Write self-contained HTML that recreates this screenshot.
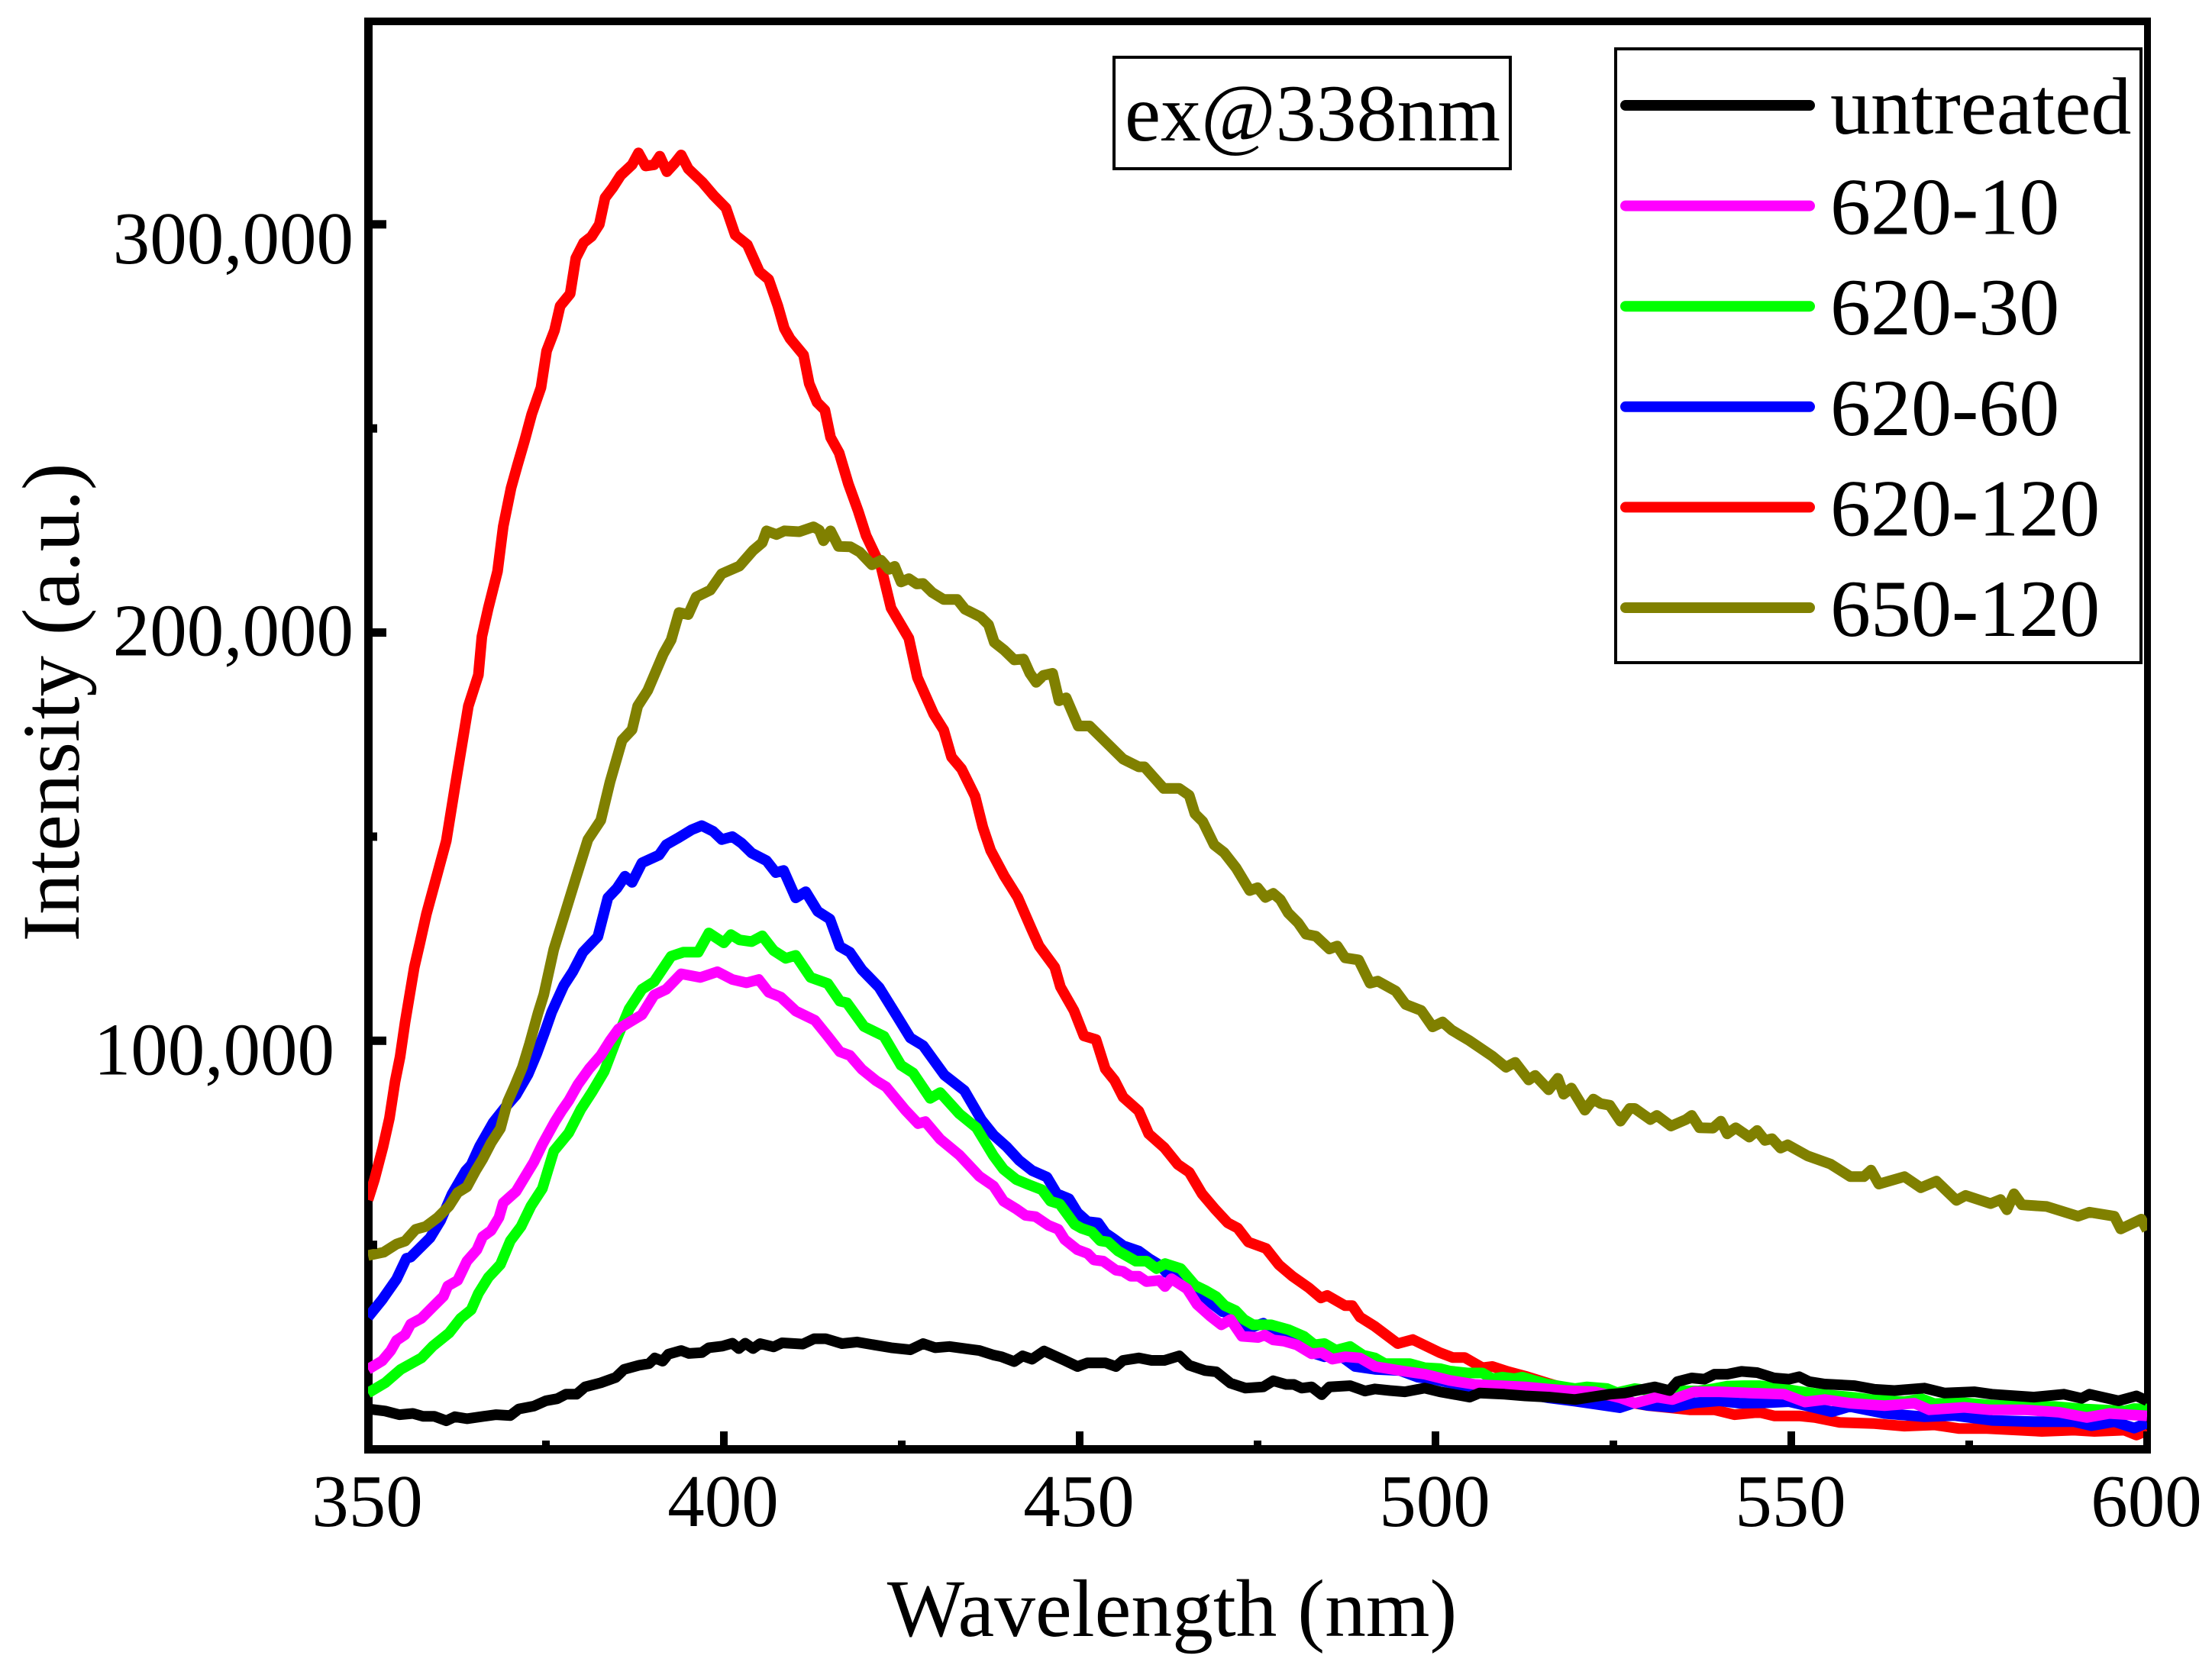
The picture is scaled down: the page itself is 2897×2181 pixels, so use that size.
<!DOCTYPE html>
<html lang="en">
<head>
<meta charset="utf-8">
<title>Intensity vs Wavelength</title>
<style>
html,body{margin:0;padding:0;background:#fff;}
svg{display:block;}
text{font-family:"Liberation Serif","Times New Roman",serif;fill:#000;}
</style>
</head>
<body>
<svg id="chart" xmlns="http://www.w3.org/2000/svg" width="2897" height="2181" viewBox="0 0 2897 2181">
  <rect x="0" y="0" width="2897" height="2181" fill="#fff"/>
  <defs><clipPath id="plot-clip"><rect x="482" y="27" width="2331" height="1871"/></clipPath></defs>
  <g id="series-layer" clip-path="url(#plot-clip)"></g>
  <g id="axes-layer"></g>
  <g id="labels-layer"></g>
  <text x="1535" y="2143" font-size="107.5" text-anchor="middle">Wavelength (nm)</text>
  <text transform="translate(103,920) rotate(-90)" font-size="107" text-anchor="middle">Intensity (a.u.)</text>
  <g>
    <rect x="1459" y="75" width="519" height="146" fill="#fff" stroke="#000" stroke-width="4"/>
    <text x="1473" y="184" font-size="106">ex@338nm</text>
  </g>
  <g id="legend-layer">
    <rect x="2116" y="64" width="688" height="804" fill="#fff" stroke="#000" stroke-width="4"/>
  </g>
</svg>
<script>
// Axis ranges and ticks
const xDomain = [350, 600];
const yDomain = [0, 350];
const xMajorTicks = [350, 400, 450, 500, 550, 600];
const xMinorTicks = [375, 425, 475, 525, 575];
const yMajorTicks = [100, 200, 300];
const yMinorTicks = [50, 150, 250];
const yTickLabels = ["100,000", "200,000", "300,000"];
const xTickLabels = ["350", "400", "450", "500", "550", "600"];

// Series values: wavelength (nm) and intensity (thousands of a.u.)
const redWl = [350,350.9,352.1,353,353.8,354.5,355.2,356.5,357.3,358.2,359.6,361,362.2,363.3,364.1,365.5,366,366.9,368.2,369,370.1,371,372,373,374.3,375.1,376.2,377,378.4,379.2,380.3,381.4,382.5,383.3,384.4,385.5,387.1,388,389,390.2,391,392,393.1,394,395,397,398.6,400.3,401.6,403.3,405,406.3,407.6,408.5,409.3,411.2,412,413.1,414.2,415,416.2,417.5,418.9,420,422.1,423.5,426,427.2,429.5,430.9,432,433.4,435.3,436.4,437.5,439.4,441.3,443.2,444.3,446.5,447.3,449.2,450.6,452.3,453.6,454.9,456.1,458.3,459.7,461.9,463.8,465.4,467.2,469,470.8,472.2,473.7,476.2,478,479.9,482.2,483.9,484.8,487.3,488.3,489.4,491.5,494.7,496.8,500.6,502.4,504.1,506.6,508,510.1,512.9,516,520,525,530,535.7,539.2,542,545.5,547.6,551.1,553.3,556.8,561.7,565.9,570.1,573.6,577.5,582,585.2,589.7,592.6,596.8,598.5,600];
const redVal = [61,66,74,81,90,96,104.5,118,124,131,140,149,162,173.6,182,189.6,199,206,215,226,235.4,241,247,253.5,260,269,274,280,283,291.7,295.5,297,300,306.5,309,312,314.6,317.5,314.3,314.6,316.7,312.9,315,317,313.6,310.3,307,304,297.4,295,288.4,286.5,280,274.5,272,268,261,256.4,254.5,247.8,244,236.4,229.7,223.7,216,206,198.6,189,180,176.1,169.5,166.6,159.9,152.3,146.6,140.4,135.1,127.5,123.2,118,113.2,107.4,101.2,100.3,93.1,90.3,86.2,82.8,77.2,73.8,69.7,67.8,62.5,58.8,55.4,54.1,50.7,49.1,45.1,42.3,39.5,37,37.6,35.1,35.1,32.3,30,25.8,26.8,23.6,22.4,22.4,19.9,20.2,19,17.7,16,14,12,10.6,9.6,9.6,8.4,9,8.1,8.1,7.7,6.5,6.2,5.6,5.9,5,5,4.6,4.3,4.6,4.3,4.6,3.4,4.5];

const blueWl = [350,352,354,355.4,356,358.7,360.2,361.8,363.7,364.5,365.7,367.6,369.2,370.8,372.5,373.7,374.9,375.8,377.5,378.8,380.2,382.3,383.7,385,386.1,387.1,388.5,390.9,391.9,393.5,395.5,396.9,398.5,399.7,401.2,402.5,403.9,406,407.3,408.4,410.1,411.5,413.2,414.9,416.3,417.7,419.4,421.8,424.2,426.2,428,431,433.8,436.2,437.9,439.7,441.5,443.3,445.4,446.8,448.5,449.7,451.1,452.6,453.6,454.7,456.1,458.3,459.7,461.2,462.2,464.4,466.5,468.3,470.1,471.9,473.7,475.8,477.6,479.7,482.6,484.4,486.5,488.7,491.5,495,497.5,499.9,504.1,508,512,516,519.6,522.4,525.9,528,529.7,533.3,536.4,539.9,542.7,546.2,549.7,551.9,555.7,558.2,563.1,568.7,572.9,578.2,584.1,589.7,592.2,595.4,598.2,600];
const blueVal = [32.3,36.6,41.6,46.7,47,51.7,56,62.4,68.1,69.6,74.2,80,83.5,86.7,91.8,96.8,102.5,107,113.5,117,121.7,125.5,135,137.4,140.3,138.8,143.6,145.5,148,149.6,151.7,152.7,151.3,149.3,150,148.4,146,144.1,141.2,141.7,135,136.5,131.7,129.8,123.1,121.7,117.4,113.1,106.4,100.7,98.8,91.6,87.8,80.6,76.9,74.1,70.7,68.2,66.6,62.5,61.3,57.9,55.7,55.4,52.9,51.6,49.8,48.5,46.7,45.1,43.2,42,38.5,36,33.6,33,29.5,30.8,27.9,27.6,23.6,22.6,23,20.2,19.5,19.2,17.6,17,15.4,14.3,13.7,12.5,11.7,11,10.1,11.3,10.7,10.2,11.3,11.8,11.2,11.3,11.6,10.7,9.1,10.4,8.7,7.9,8.2,7,6.7,6.7,5.7,6.7,5.1,6.4];

const oliveWl = [350,352.2,354,355.2,356.7,358.1,359.8,361.4,362.6,363.9,365.1,366.1,367.3,368.6,369.6,370.6,371.7,372.7,373.9,374.7,376.1,377.5,379.2,380.9,382.7,384,385.7,387.1,387.9,389.3,390.7,391.5,392.6,393.7,395,396.1,398.1,399.7,402.2,404.1,405.4,406,407.4,408.5,410.6,412.6,413.4,414,415,416.1,417.8,419.1,420.8,422.1,423.2,424,424.9,426,427.1,428,429.3,430.9,432.8,433.9,436.1,437.2,438,439.4,440.8,442.1,443,443.9,444.9,446.2,447.1,448.1,449.8,451.4,453.6,456.1,458.3,459.1,461.8,464,465.4,466.2,467.3,468.9,470.3,472,473.9,475,476.1,477.2,478.2,479.3,480.7,481.8,483.2,485.1,486.2,487.3,489.2,490.8,491.9,494.4,495.8,498,499.6,501,502.3,504.8,508,509.9,511.2,513.1,514,515.9,517.2,518,519.1,521,522.2,523.2,524.5,526,527.3,528,530.2,531.1,533.1,535.2,536,537.1,539,540.1,541,542.2,544.1,545.2,546.3,547.3,548.5,549.5,552.3,555.5,558.3,560.2,561.2,562.3,565.9,568.2,570.4,573.2,574.5,578,579.4,580.3,581.3,582.4,585.9,590.3,591.9,595.4,596.3,599.2,600];
const oliveVal = [47.4,48.2,50.2,50.9,53.8,54.5,56.7,59.5,62.8,64.2,68.1,71,75,78.5,85,88.9,93.5,99.3,106.8,111.3,122.4,130.2,139.8,149.3,154,163.4,173.6,176.2,182,185.8,191.5,194.8,198.2,204.9,204.4,208.7,210.4,214.4,216.3,220.1,222,224.9,224,224.9,224.7,225.9,225.1,222.5,224.9,221.1,221,219.7,216.6,217.7,215.5,216.2,212.4,213.2,211.9,212,209.8,208.1,208.1,205.7,203.8,201.9,197.6,195.7,193.3,193.5,190,187.8,189.5,190,183.3,184,177.1,177.1,173.3,169,167.1,167.1,161.8,161.8,160.1,155.6,153.7,148,146.1,142.3,136.8,137.5,135.1,136.1,134.6,131.3,128.9,126.1,125.6,122.5,123.2,120.3,119.8,114.1,114.6,112.2,108.9,107.4,103.4,104.6,102.6,100,96.2,93.5,94.7,90.4,91.5,88,90.8,86.9,88.4,83,85.7,84.6,84.2,80.3,83.4,83.4,80.7,81.7,79.1,80.7,81.7,78.7,78.6,80.3,77.2,78.7,76.4,78,75.6,76,73.7,74.5,71.8,69.8,66.7,66.7,68.3,64.9,66.7,64,65.6,60.9,62.1,60.1,61.1,58.6,62.5,59.8,59.4,57,58,57,53.9,56.3,53.6];

const greenWl = [350,352.4,354.6,357.5,359.1,361.4,363,364.5,365.5,366.9,368.6,370,371.5,372.9,374.5,376.1,378.2,379.9,381.5,383.2,385,386.7,388.5,390.2,392.6,394.3,396.4,397.9,400,401,402.2,403.9,405.4,407,408.7,410.1,412.2,414.6,416.3,417.3,419.7,422.5,424.9,426.6,429,430.4,433.1,435.5,437.9,439.3,441.1,442.9,444.7,445.9,447.2,449.3,450.2,451.7,452.9,454,455.4,457.9,459.4,460.8,462,464.2,466.2,467.6,469.2,470.4,471.9,473.1,474.4,476.9,479.4,481.5,483,484.4,486,488,489.8,491.5,492.9,496.4,498.5,500.6,502,504.5,506.6,508,509.4,511.1,512.2,514,515.7,519.6,521.3,524.1,525.5,528,529.7,533,537,539.2,541,543.4,545.5,548.3,551.1,553.3,555.4,558.9,561.7,565.9,568.3,570.1,574.3,578.5,582,586.9,591.1,596.8,598.2,600];
const greenVal = [13.7,16.2,19.5,22.3,25.2,28.4,32,34.1,38.1,42,45.2,51,54.5,59.5,63.8,73,77.4,83.2,87.5,92.5,100.7,107.8,112.6,114.5,120.7,121.7,121.7,126.4,124,126,124.7,124.3,125.7,122.1,120.2,120.9,115.5,114,109.7,109.3,103.5,101.1,94,92.1,85.9,87.3,82.1,78.7,71.8,68.5,66,64.7,63.5,60.7,60,55,54.1,53.2,51,50.7,48.5,46,46,44.2,45.4,44.2,40.1,38.9,37.3,35.1,33.9,31.7,30.4,30.4,29.2,27.6,25.5,25.8,24.2,25.1,23,22.3,20.9,20.9,19.9,19.7,19.1,18.6,18.6,17.2,17.6,17.2,17.6,16.7,15.9,14.8,15.2,14.8,13.8,14.8,14.4,14.3,14.2,14.8,15.4,15.5,15.5,14.9,14.1,13.6,13.2,12.6,12,11.6,12.3,11.1,11.3,10.7,10.5,10.4,9.8,9.3,9.9,9.8];

const magentaWl = [350,352,353.2,354,355.2,356,357.5,359.1,360.6,361.2,362.6,363.9,365.3,366.1,367.3,368.4,369,370.8,372.3,373.3,374.5,376.2,377.2,378.2,379.5,381.1,382.7,384,385.2,386.8,388.5,390.2,391.9,394,396.7,399.1,401.2,403.2,404.9,406.3,408,410.1,412.8,414.6,416.3,417.7,419.4,421.4,422.8,425.5,427.3,428.3,430.4,433.1,435.9,437.9,439.3,441.1,442.4,443.8,445.6,447,447.9,449.7,451.1,452,453.3,455.1,456.1,457.2,458.3,459.4,461.2,462,462.9,465.1,466.5,468.3,469.9,471.2,472.8,475.1,476,477.2,478.7,480.5,482.6,484,485.5,487.3,489.4,491.5,495.7,498.5,502,505.5,509,512.6,518.2,522.4,526,528,531.1,533.3,536.4,539.9,544.1,549,551.9,554.7,558.2,563.1,567.3,569.4,574.3,577.8,582.7,587.6,591.5,594.7,600];
const magentaVal = [19.5,21.6,24.1,26.6,28,30.6,32,34.8,37.4,39.9,41.3,46,48.8,52,53.5,56.7,60.3,63.1,67.4,70.3,74.6,80,82.8,85.3,89.3,93.2,96.4,100,102.9,104.6,106.4,111.2,112.6,116.4,115.5,116.9,115,114.2,115,111.9,110.7,107.3,105,101.1,97.3,96.4,93,90.2,88.7,83,79.7,80.2,75.9,72,66.8,64.4,60.7,58.8,57.2,56.9,54.8,53.8,51.3,48.8,47.9,46.3,46,43.8,43.5,42.3,42.3,41,41.3,39.8,41.7,39.2,35.4,32.6,30.4,31.7,27.6,27.3,27.9,26.7,26.4,25.5,23.3,23.6,22,22.6,22.3,20.2,19,18.3,16.8,15.8,15.5,15.2,14.3,14,12.5,11.2,12.7,12.1,14,14,13.7,13.4,11.5,12.1,11.2,10.6,11.2,9.6,10.2,9.6,9.6,9,7.7,8.7,8.1];

const blackWl = [350,352.4,354.4,356.3,357.7,359.3,361,362.2,363.9,366.3,368,370,371.2,373.3,375,376.6,377.8,379.3,380.5,382.7,384.8,386,388.1,389.5,390.3,391.4,392.2,394,395.1,396.9,397.9,399.8,401.2,402.1,403,404.1,405.1,407,408.2,411.1,412.7,414.3,416.6,418.7,423.5,426.2,428,429.7,431.7,435.9,437.9,439,440.8,442,443.3,445,446.5,447.9,449.7,451.1,453.6,455.1,456.1,458.3,460.1,461.9,464,465.4,467.6,469.2,471.2,473.3,475.8,477.2,479,480.1,481.2,482.6,484,485.1,488,490.1,491.5,493.6,495.7,498.5,500.6,504.8,506.2,509.7,512.6,516,519.6,524.5,526.6,530.8,532.9,534,536,537.8,539.2,541,543,545.2,547.6,549.7,551.1,552.5,554.7,558.9,561.7,564.5,568.7,571.5,575.7,578.2,584.1,588.3,590.8,591.9,596,598.5,600];
const blackVal = [9.8,9.3,8.4,8.7,8,8,6.9,7.9,7.4,8,8.4,8.2,9.8,10.5,11.8,12.3,13.4,13.4,15.2,16.2,17.5,19.5,20.5,20.9,22.3,21.5,23.2,24.1,23.4,23.6,24.8,25.2,25.9,24.6,25.9,24.6,25.8,25,26,25.7,27,27,25.8,26.2,24.8,24.3,25.8,24.8,25.1,24.1,23,22.6,21.4,22.8,22,24,22.8,21.7,20.2,21.1,21.1,20.2,21.7,22.3,21.7,21.7,22.8,20.5,19.2,18.9,16.1,14.9,15.2,16.7,15.8,15.8,14.9,15.2,13.3,15.2,15.5,14.2,14.7,14.3,14,14.9,14,12.7,13.7,13.4,13,12.7,12.1,13.4,13.7,15.2,14.3,16.5,17.4,17.1,18.3,18.3,19,18.7,17.4,17.1,17.7,16.5,15.9,15.5,14.6,14.3,14.9,13.7,14,13.4,12.7,13.4,12.4,13.4,11.8,13,11.8];

// Legend entries
const legendLabels = ["untreated", "620-10", "620-30", "620-60", "620-120", "650-120"];
const legendColors = ["#000000", "#ff00ff", "#00ff00", "#0000ff", "#ff0000", "#808000"];

// Axis functions
function xScale(w) { return 482 + (w - xDomain[0]) / (xDomain[1] - xDomain[0]) * 2330; }
function yScale(v) { return 1898 - (v - yDomain[0]) / (yDomain[1] - yDomain[0]) * 1871.5; }

const NS = "http://www.w3.org/2000/svg";
function mk(tag, attrs, parent) {
  const el = document.createElementNS(NS, tag);
  for (const k in attrs) el.setAttribute(k, attrs[k]);
  parent.appendChild(el);
  return el;
}

// Series (drawn back to front)
const seriesLayer = document.getElementById("series-layer");
function drawSeries(wl, val, color) {
  let d = "";
  for (let i = 0; i < wl.length; i++) {
    d += (i ? "L" : "M") + xScale(wl[i]).toFixed(1) + " " + yScale(val[i]).toFixed(1);
  }
  const p = mk("path", {d: d, fill: "none", stroke: color, "stroke-width": 14, "stroke-linejoin": "round"}, seriesLayer);
  return p;
}
const lineRed = drawSeries(redWl, redVal, "#ff0000");


const lineBlue = drawSeries(blueWl, blueVal, "#0000ff");


const lineOlive = drawSeries(oliveWl, oliveVal, "#808000");


const lineGreen = drawSeries(greenWl, greenVal, "#00ff00");


const lineMagenta = drawSeries(magentaWl, magentaVal, "#ff00ff");


const lineBlack = drawSeries(blackWl, blackVal, "#000000");



// Axes: frame
const axes = document.getElementById("axes-layer");
const spineLeft = mk("rect", {x: 477, y: 23, width: 5, height: 1881, fill: "#000"}, axes);


const spineTop = mk("rect", {x: 477, y: 23, width: 2340, height: 10, fill: "#000"}, axes);


const spineRight = mk("rect", {x: 2812, y: 23, width: 5, height: 1881, fill: "#000"}, axes);


const spineBottom = mk("rect", {x: 477, y: 1893, width: 2340, height: 11, fill: "#000"}, axes);



// Portions of the side spines that sit under the coloured lines are drawn first
const spineUnder = document.createElementNS(NS, "g");


document.getElementById("chart").insertBefore(spineUnder, document.getElementById("series-layer"));
mk("rect", {x: 482, y: 23, width: 6, height: 1881, fill: "#000"}, spineUnder);
mk("rect", {x: 2808, y: 23, width: 5, height: 1881, fill: "#000"}, spineUnder);

// Ticks
xMajorTicks.forEach(function (t) {
  const tick = mk("rect", {x: xScale(t) - 5, y: 1875, width: 10, height: 19, fill: "#000"}, axes);
  
  
});
xMinorTicks.forEach(function (t) {
  const tick = mk("rect", {x: xScale(t) - 5, y: 1887, width: 10, height: 7, fill: "#000"}, axes);
  
  
});
yMajorTicks.forEach(function (t) {
  const tick = mk("rect", {x: 487, y: yScale(t) - 5.5, width: 19, height: 11, fill: "#000"}, axes);
  
  
});
yMinorTicks.forEach(function (t) {
  const tick = mk("rect", {x: 487, y: yScale(t) - 5.5, width: 7, height: 11, fill: "#000"}, axes);
  
  
});

// Tick labels
const labels = document.getElementById("labels-layer");
xMajorTicks.forEach(function (t, i) {
  const lab = mk("text", {x: xScale(t) - 1, y: 1999, "font-size": 97, "text-anchor": "middle"}, labels);
  
  
  lab.textContent = xTickLabels[i];
});
// The reference places each y label by hand, so nudge it relative to its tick
function yLabelBaselineOffset(t) { return t === 300 ? 51 : (t === 200 ? 30 : 44); }
function yLabelRightEdge(t) { return t === 100 ? 438 : 463; }
yMajorTicks.forEach(function (t, i) {
  const lab = mk("text", {x: yLabelRightEdge(t), y: yScale(t) + yLabelBaselineOffset(t), "font-size": 97, "text-anchor": "end"}, labels);
  
  
  lab.textContent = yTickLabels[i];
});

// Legend
const legend = document.getElementById("legend-layer");
legendLabels.forEach(function (name, i) {
  const rowY = 138 + i * 131.6;
  const key = mk("line", {x1: 2129, x2: 2370, y1: rowY, y2: rowY, stroke: legendColors[i], "stroke-width": 14, "stroke-linecap": "round"}, legend);
  
  
  const txt = mk("text", {x: 2397, y: i === 0 ? 175 : rowY + 37, "font-size": 106}, legend);
  
  
  txt.textContent = name;
});
</script>
</body>
</html>
